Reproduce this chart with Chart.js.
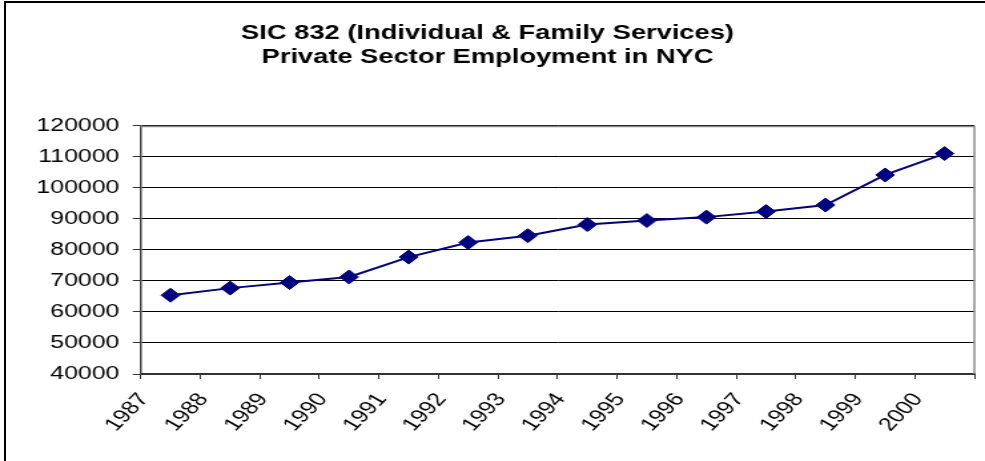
<!DOCTYPE html>
<html>
<head>
<meta charset="utf-8">
<script src="https://cdn.jsdelivr.net/npm/chart.js@4.4.1/dist/chart.umd.min.js"></script>
<style>
  html, body { margin: 0; padding: 0; background: #fff; overflow: hidden; }
  #frame { position: absolute; left: 4px; top: 1px; width: 1200px; height: 800px; border-left: 2px solid #000; border-top: 2px solid #000; }
  /* the original picture is stretched sideways, so draw narrow and scale the box */
  #wrap { position: absolute; left: 0; top: 0; width: 740px; height: 461px; transform: scaleX(1.3311); transform-origin: 0 0; }
  #chart { display: block; width: 740px; height: 461px; }
</style>
</head>
<body>
<div id="frame"></div>
<div id="wrap"><canvas id="chart" width="740" height="461"></canvas></div>
<script>
const years = ['1987', '1988', '1989', '1990', '1991', '1992', '1993',
               '1994', '1995', '1996', '1997', '1998', '1999', '2000'];
const employment = [65400, 67700, 69500, 71300, 77700, 82400, 84600,
                    88200, 89500, 90600, 92400, 94500, 104200, 111100];
const titleLines = ['SIC 832 (Individual & Family Services)', 'Private Sector Employment in NYC'];
const yMin = 40000;
const yMax = 120000;
const yStep = 10000;

const fontFamily = '"Liberation Sans", Arial, sans-serif';

// gray frame on top and right of the plot, like the Excel plot area
const plotBorder = {
  id: 'plotBorder',
  beforeDatasetsDraw(chart) {
    const { ctx, chartArea: a } = chart;
    ctx.save();
    ctx.strokeStyle = '#8c8c8c';
    ctx.lineWidth = 1.5;
    ctx.beginPath();
    ctx.moveTo(a.left, a.top + 0.5);
    ctx.lineTo(a.right, a.top + 0.5);
    ctx.lineTo(a.right, a.bottom);
    ctx.stroke();
    ctx.restore();
  }
};

const ctx = document.getElementById('chart').getContext('2d');
new Chart(ctx, {
  type: 'line',
  data: {
    labels: years,
    datasets: [{
      label: 'Employment',
      data: employment,
      borderColor: '#000080',
      backgroundColor: '#000080',
      borderWidth: 2,
      pointStyle: 'rectRot',
      pointRadius: 7,
      pointBorderWidth: 1,
      pointBackgroundColor: '#000080',
      pointBorderColor: '#000080',
      tension: 0,
      fill: false
    }]
  },
  options: {
    responsive: false,
    devicePixelRatio: 1,
    animation: false,
    layout: { padding: { left: 0, right: 7.5, top: 0, bottom: 0 } },
    plugins: {
      legend: { display: false },
      tooltip: { enabled: false },
      title: {
        display: true,
        text: titleLines,
        color: '#000',
        font: { family: fontFamily, size: 20.5, weight: 'bold', lineHeight: 1.17 },
        padding: { top: 21.5, bottom: 56.5 }
      }
    },
    scales: {
      x: {
        type: 'category',
        offset: true,
        afterFit: (scale) => {
          scale.height = 87;
          scale.paddingLeft = 0;
          scale.paddingRight = 0;
        },
        grid: {
          drawOnChartArea: false,
          offset: true,
          tickLength: 5,
          color: '#333'
        },
        border: { display: true, color: '#333', width: 2 },
        ticks: {
          autoSkip: false,
          minRotation: 53,
          maxRotation: 53,
          labelOffset: -20,
          padding: 10,
          color: '#000',
          font: { family: fontFamily, size: 18.7 }
        }
      },
      y: {
        min: yMin,
        max: yMax,
        afterFit: (scale) => { scale.width = 105.7; },
        grid: {
          color: '#000',
          lineWidth: 1,
          tickLength: 6,
          tickColor: '#333'
        },
        border: { display: true, color: '#444', width: 1.5 },
        ticks: {
          stepSize: yStep,
          padding: 10,
          color: '#000',
          font: { family: fontFamily, size: 18.7 },
          callback: (value) => String(value)
        }
      }
    }
  },
  plugins: [plotBorder]
});
</script>
</body>
</html>
